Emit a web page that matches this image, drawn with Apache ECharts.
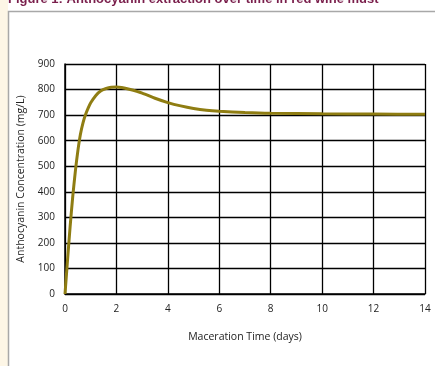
<!DOCTYPE html>
<html><head><meta charset="utf-8">
<script src="https://cdn.jsdelivr.net/npm/echarts@6/dist/echarts.min.js"></script>
<style>html,body{margin:0;padding:0;background:#fff;}#c{width:435px;height:366px;}</style>
</head><body><div id="c"></div>
<script>
var titleText = "Figure 1: Anthocyanin extraction over time in red wine must";
var xName = "Maceration Time (days)";
var yName = "Anthocyanin Concentration (mg/L)";
var days = [0,0.1,0.2,0.3,0.4,0.5,0.6,0.7,0.8,0.9,1.0,1.2,1.4,1.6,1.8,2.0,2.2,2.5,3,3.5,4,4.5,5,5.5,6,7,8,10,12,14];
var conc = [0,135,265,380,478,560,625,670,702,727,748,777,795,804,809,810,808,801,786,766,749,736,726,719,715,710,707,705,704,703];
var data = days.map(function(d,i){return [d, conc[i]];});
var chart = echarts.init(document.getElementById('c'));
chart.setOption({
  animation:false,
  backgroundColor:'#fff',
  graphic:[
    {type:'rect', shape:{x:0,y:0,width:8,height:366}, style:{fill:'#fdf6e6'}, z:-10},
    {type:'rect', shape:{x:8.5,y:11.5,width:500,height:400}, style:{fill:'#fff',stroke:'#a8a8a8',lineWidth:1.5}, z:-9},
    {type:'text', x:8, y:6, style:{text:titleText, fill:'#7a1f4c', font:'bold 13px "Liberation Sans"', textVerticalAlign:'bottom'}}
  ],
  grid:{left:65,right:10,top:64,bottom:72},
  xAxis:{type:'value',min:0,max:14,interval:2,
    name:xName,nameLocation:'middle',nameGap:38,
    nameTextStyle:{color:'#222',fontSize:10.5,fontFamily:'Open Sans'},
    axisLine:{lineStyle:{color:'#000',width:1.5}},axisTick:{show:false},
    axisLabel:{color:'#222',fontSize:10,fontFamily:'Open Sans',margin:10},
    splitLine:{show:true,lineStyle:{color:'#000',width:1.3}}},
  yAxis:{type:'value',min:0,max:900,interval:100,
    name:yName,nameLocation:'middle',nameGap:37,
    nameTextStyle:{color:'#222',fontSize:10.5,fontFamily:'Open Sans'},
    axisLine:{show:true,lineStyle:{color:'#000',width:1.5}},axisTick:{show:false},
    axisLabel:{color:'#222',fontSize:10,fontFamily:'Open Sans',margin:10},
    splitLine:{show:true,lineStyle:{color:'#000',width:1.3}}},
  series:[{type:'line',data:data,smooth:0.25,showSymbol:false,
    lineStyle:{color:'#8f7d12',width:3}}]
});
</script></body></html>
